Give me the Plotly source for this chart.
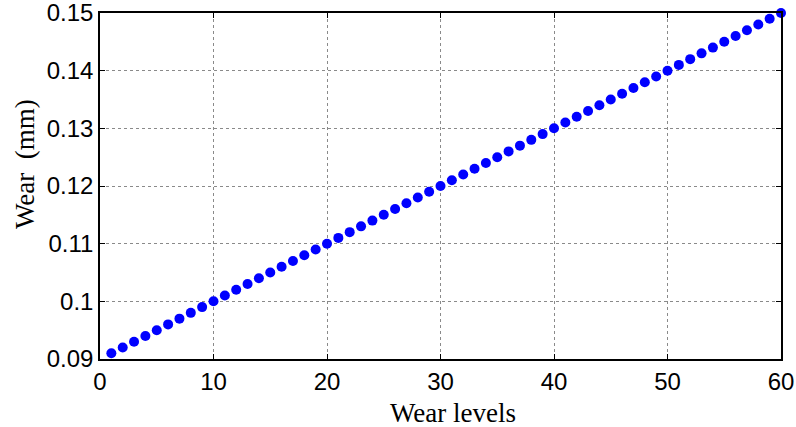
import plotly.graph_objects as go

wear_levels = [1, 2, 3, 4, 5, 6, 7, 8, 9, 10,
               11, 12, 13, 14, 15, 16, 17, 18, 19, 20,
               21, 22, 23, 24, 25, 26, 27, 28, 29, 30,
               31, 32, 33, 34, 35, 36, 37, 38, 39, 40,
               41, 42, 43, 44, 45, 46, 47, 48, 49, 50,
               51, 52, 53, 54, 55, 56, 57, 58, 59, 60]
wear_mm = [0.091, 0.092, 0.093, 0.094, 0.095, 0.096, 0.097, 0.098, 0.099, 0.100,
           0.101, 0.102, 0.103, 0.104, 0.105, 0.106, 0.107, 0.108, 0.109, 0.110,
           0.111, 0.112, 0.113, 0.114, 0.115, 0.116, 0.117, 0.118, 0.119, 0.120,
           0.121, 0.122, 0.123, 0.124, 0.125, 0.126, 0.127, 0.128, 0.129, 0.130,
           0.131, 0.132, 0.133, 0.134, 0.135, 0.136, 0.137, 0.138, 0.139, 0.140,
           0.141, 0.142, 0.143, 0.144, 0.145, 0.146, 0.147, 0.148, 0.149, 0.150]
x_ticks = [0, 10, 20, 30, 40, 50, 60]
y_ticks = [0.09, 0.10, 0.11, 0.12, 0.13, 0.14, 0.15]
y_tick_text = ["0.09", "0.1", "0.11", "0.12", "0.13", "0.14", "0.15"]

W, H = 796, 427
L, R, T, B = 100, 15, 13, 68
pw, ph = W - L - R, H - T - B

fig = go.Figure()
fig.add_trace(go.Scatter(
    x=wear_levels, y=wear_mm, mode="markers",
    marker=dict(color="#0000FF", size=10, line=dict(width=0)),
    showlegend=False, cliponaxis=False,
))

axis_common = dict(
    showline=True, linecolor="black", linewidth=1.5, mirror="ticks",
    ticks="inside", ticklen=5, tickwidth=1, tickcolor="black",
    showgrid=True, gridcolor="#8a8a8a", gridwidth=1, griddash="dot",
    zeroline=False, automargin=False, ticklabeloverflow="allow",
    tickfont=dict(family="Liberation Sans, Arial", size=24, color="black"),
)

fig.update_layout(
    width=W, height=H,
    margin=dict(l=L, r=R, t=T, b=B),
    paper_bgcolor="white", plot_bgcolor="white",
    xaxis=dict(range=[0, 60.00001], tickvals=x_ticks, **axis_common),
    yaxis=dict(range=[0.0899999, 0.1500001], tickvals=y_ticks, ticktext=y_tick_text, **axis_common),
    annotations=[
        dict(text="Wear levels", xref="paper", yref="paper",
             x=(453 - L) / pw, y=(H - B - 413) / ph,
             xanchor="center", yanchor="middle", showarrow=False,
             font=dict(family="Liberation Serif, Times New Roman", size=27, color="black")),
        dict(text="Wear  (mm)", xref="paper", yref="paper",
             x=(25 - L) / pw, y=(H - B - 164) / ph, textangle=-90,
             xanchor="center", yanchor="middle", showarrow=False,
             font=dict(family="Liberation Serif, Times New Roman", size=27, color="black")),
    ],
)

fig.write_html("out.html",
               config={"displayModeBar": False},
               post_script="document.body.style.margin='0px';document.body.style.overflow='hidden';")
